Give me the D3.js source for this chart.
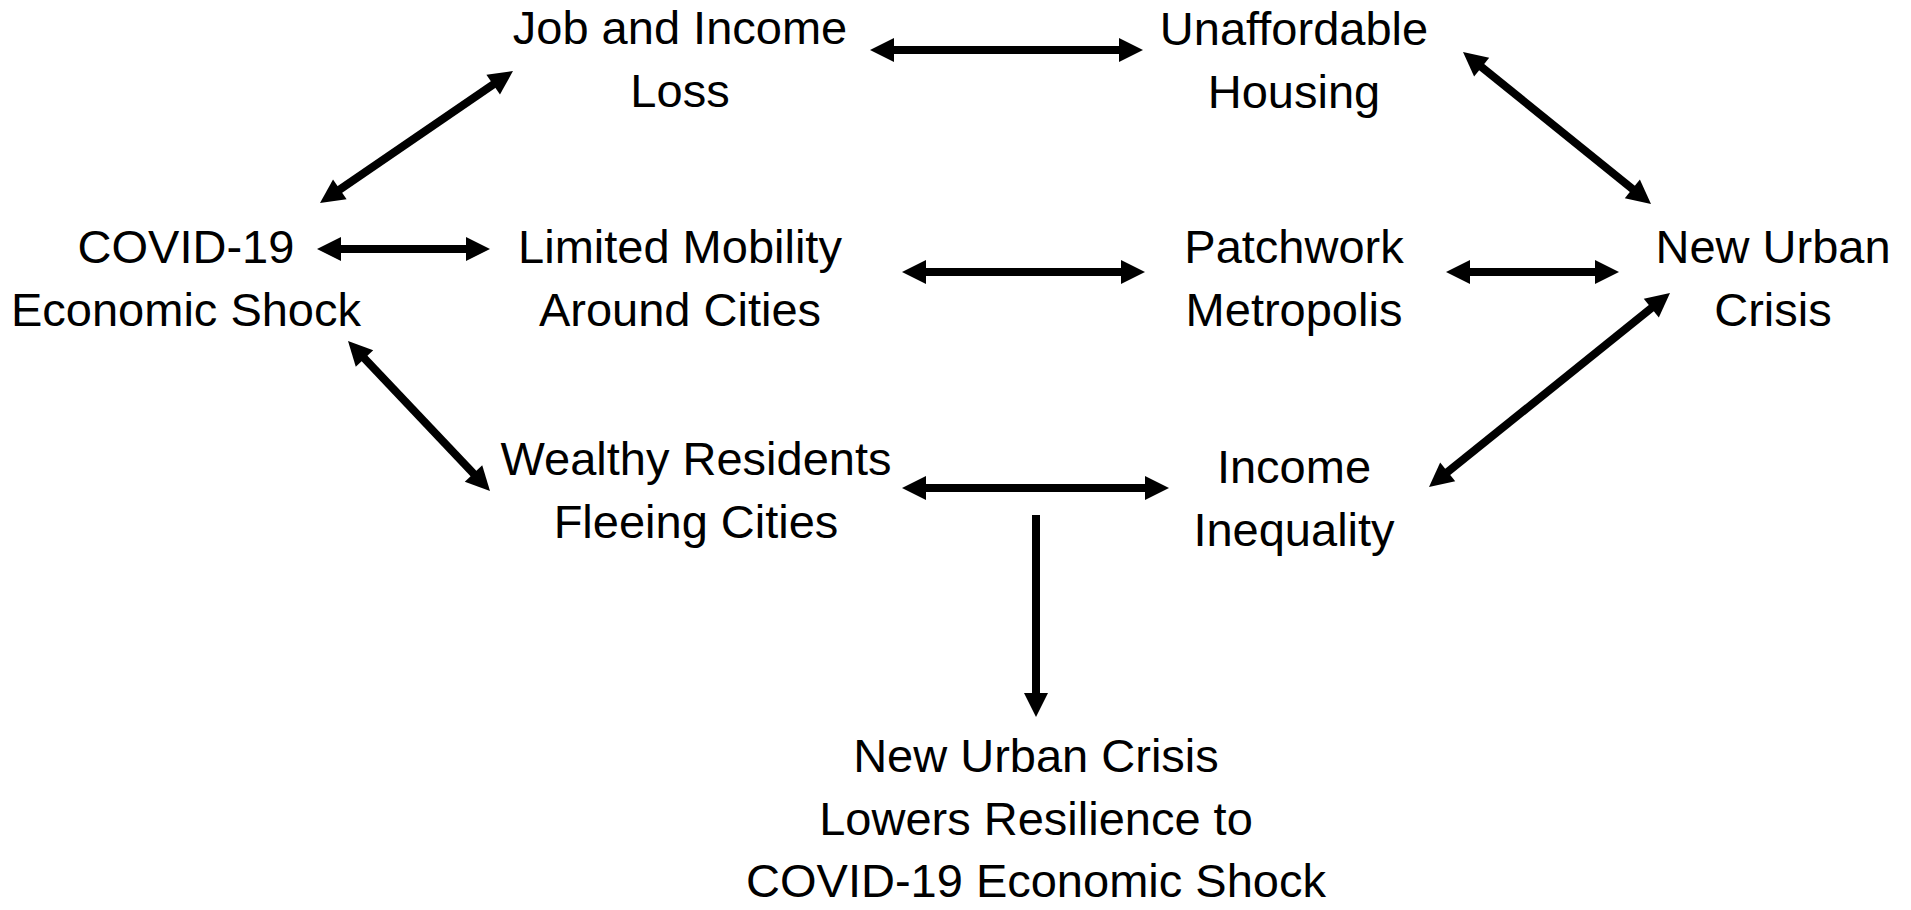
<!DOCTYPE html>
<html>
<head>
<meta charset="utf-8">
<script src="https://cdn.jsdelivr.net/npm/d3@7"></script>
<style>
  html, body { margin: 0; padding: 0; background: #fff; }
  svg { display: block; }
  text { font-family: "Liberation Sans", Arial, sans-serif; fill: #000; }
</style>
</head>
<body>
<svg id="chart" width="1911" height="910"></svg>
<script>
// ---- data: node labels (one entry per line) ----
const nodeIds = ["covid", "job", "mobility", "wealthy", "housing", "patchwork", "inequality", "crisis", "outcome"];
const nodeLabels = [
  ["COVID-19", "Economic Shock"],
  ["Job and Income", "Loss"],
  ["Limited Mobility", "Around Cities"],
  ["Wealthy Residents", "Fleeing Cities"],
  ["Unaffordable", "Housing"],
  ["Patchwork", "Metropolis"],
  ["Income", "Inequality"],
  ["New Urban", "Crisis"],
  ["New Urban Crisis", "Lowers Resilience to", "COVID-19 Economic Shock"]
];
// ---- data: links (source, target, two-headed?) ----
const linkSource = ["covid", "covid", "covid", "job", "mobility", "wealthy", "housing", "patchwork", "inequality", "wealthy"];
const linkTarget = ["job", "mobility", "wealthy", "housing", "patchwork", "inequality", "crisis", "crisis", "crisis", "outcome"];
const linkBoth   = [true, true, true, true, true, true, true, true, true, false];

// ---- layout (positions kept apart from the data) ----
const nodeCenter = { // x center, baseline of first line
  covid: [186, 263], job: [680, 44], mobility: [680, 263], wealthy: [696, 475],
  housing: [1294, 45], patchwork: [1294, 263], inequality: [1294, 483],
  crisis: [1773, 263], outcome: [1036, 772]
};
const linkEnds = [ // arrow tip coordinates [x1,y1,x2,y2]
  [320, 203, 513, 71],
  [317, 249, 490, 249],
  [348, 341, 490, 491],
  [870, 50, 1143, 50],
  [902, 272, 1145, 272],
  [902, 488, 1169, 488],
  [1463, 52, 1651, 204],
  [1446, 272, 1619, 272],
  [1429, 487, 1670, 293],
  [1036, 515, 1036, 717]
];
const lineGap = 62.5, fontSize = 47, strokeW = 8, headLen = 24, headHalf = 12;

const svg = d3.select("#chart");
svg.append("rect").attr("width", 1911).attr("height", 910).attr("fill", "#fff");

// nodes
const nodes = nodeIds.map((id, i) => ({ id, lines: nodeLabels[i] }));
const g = svg.append("g");
const nt = g.selectAll("text.node").data(nodes).join("text")
  .attr("class", "node")
  .attr("text-anchor", "middle")
  .attr("font-size", fontSize)
  .attr("x", d => nodeCenter[d.id][0])
  .attr("y", d => nodeCenter[d.id][1]);
nt.selectAll("tspan").data(d => d.lines.map(l => ({ l, x: nodeCenter[d.id][0] })))
  .join("tspan")
  .attr("x", d => d.x)
  .attr("dy", (d, i) => i === 0 ? 0 : lineGap)
  .text(d => d.l);

// links
const links = linkSource.map((s, i) => ({ s, t: linkTarget[i], both: linkBoth[i], e: linkEnds[i] }));
const line = d3.line();
const lg = svg.append("g");
links.forEach(d => {
  const [x1, y1, x2, y2] = d.e;
  const dx = x2 - x1, dy = y2 - y1, len = Math.hypot(dx, dy);
  const ux = dx / len, uy = dy / len, px = -uy, py = ux;
  const sx = d.both ? x1 + ux * (headLen - 2) : x1;
  const sy = d.both ? y1 + uy * (headLen - 2) : y1;
  const ex = x2 - ux * (headLen - 2), ey = y2 - uy * (headLen - 2);
  lg.append("path").attr("d", line([[sx, sy], [ex, ey]]))
    .attr("stroke", "#000").attr("stroke-width", strokeW).attr("fill", "none");
  const head = (tx, ty, vx, vy) => {
    const bx = tx - vx * headLen, by = ty - vy * headLen;
    lg.append("path").attr("d", line([[tx, ty], [bx + px * headHalf, by + py * headHalf], [bx - px * headHalf, by - py * headHalf]]) + "Z")
      .attr("fill", "#000");
  };
  head(x2, y2, ux, uy);
  if (d.both) head(x1, y1, -ux, -uy);
});
</script>
</body>
</html>
